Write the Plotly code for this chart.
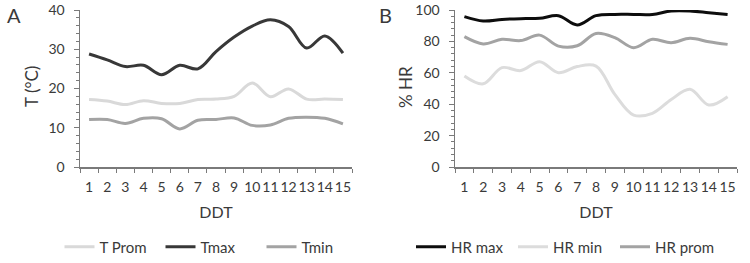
import plotly.graph_objects as go

ddt = [str(i) for i in range(1, 16)]

t_prom = [17.2, 16.8, 15.9, 16.9, 16.2, 16.2, 17.2, 17.3, 18.0, 21.4, 17.9, 19.9, 17.3, 17.3, 17.2]
t_max = [28.8, 27.3, 25.6, 25.9, 23.5, 25.9, 25.0, 29.4, 33.1, 35.9, 37.5, 35.8, 30.3, 33.4, 29.0]
t_min = [12.1, 12.1, 11.1, 12.4, 12.3, 9.7, 11.9, 12.1, 12.5, 10.6, 10.7, 12.4, 12.7, 12.4, 11.0]

hr_max = [95.8, 93.0, 94.0, 94.5, 94.7, 96.4, 90.5, 96.4, 97.2, 97.2, 97.2, 99.4, 99.4, 98.3, 97.2]
hr_min = [58.0, 53.0, 63.3, 61.4, 67.1, 60.1, 64.0, 64.3, 46.3, 33.1, 34.2, 43.0, 49.5, 39.5, 44.8]
hr_prom = [83.0, 78.4, 81.3, 80.5, 84.0, 77.0, 77.2, 85.0, 82.4, 76.0, 81.3, 79.2, 82.0, 79.8, 78.1]

FONT = "Lato"
TXT = "#3a3a3a"
AX = "#7a7a7a"

fig = go.Figure()

def add(x, y, name, color, xa, ya, leg):
    fig.add_trace(go.Scatter(
        x=x, y=y, name=name, mode="lines",
        line=dict(color=color, width=3, shape="spline", smoothing=1.0),
        xaxis=xa, yaxis=ya, legend=leg,
    ))

add(ddt, t_prom, "T Prom", "#d9d9d9", "x", "y", "legend")
add(ddt, t_max, "Tmax", "#383838", "x", "y", "legend")
add(ddt, t_min, "Tmin", "#a3a3a3", "x", "y", "legend")
add(ddt, hr_max, "HR max", "#0d0d0d", "x2", "y2", "legend2")
add(ddt, hr_min, "HR min", "#dcdcdc", "x2", "y2", "legend2")
add(ddt, hr_prom, "HR prom", "#a3a3a3", "x2", "y2", "legend2")

ydom = [1 - 167 / 263, 1 - 10 / 263]

xcommon = dict(
    type="category", tickson="boundaries", ticks="outside", ticklen=4,
    tickcolor=AX, showline=True, linecolor=AX, linewidth=1.5,
    showgrid=False, zeroline=False, ticklabelstandoff=7, tickangle=0,
    tickfont=dict(family=FONT, size=14, color=TXT),
    title=dict(text="DDT", font=dict(family=FONT, size=16, color=TXT), standoff=12),
    range=[-0.5, 14.5], fixedrange=True, automargin=False,
)
ycommon = dict(
    ticks="outside", ticklen=5, tickcolor=AX, showline=True, linecolor=AX,
    linewidth=1.5, showgrid=False, zeroline=False, ticklabelstandoff=6,
    tickfont=dict(family=FONT, size=14, color=TXT), domain=ydom, automargin=False,
    fixedrange=True,
)

def label(text, x, y, size, angle=0):
    return dict(text=text, x=x / 750, y=1 - y / 263, xref="paper", yref="paper",
                xanchor="center", yanchor="middle", textangle=angle,
                showarrow=False, font=dict(family=FONT, size=size, color=TXT))

fig.update_layout(
    width=750, height=263,
    margin=dict(l=0, r=0, t=0, b=0, autoexpand=False),
    paper_bgcolor="white", plot_bgcolor="white",
    xaxis=dict(domain=[80 / 750, 352 / 750], anchor="y", **xcommon),
    xaxis2=dict(domain=[455 / 750, 737 / 750], anchor="y2", **xcommon),
    yaxis=dict(range=[0, 40], dtick=10, anchor="x",
               minor=dict(dtick=2, ticks="outside", ticklen=3, tickcolor=AX),
               **ycommon),
    yaxis2=dict(range=[0, 100], dtick=20, anchor="x2",
                minor=dict(dtick=4, ticks="outside", ticklen=3, tickcolor=AX),
                **ycommon),
    legend=dict(orientation="h", x=211 / 750, xanchor="center", y=16 / 263, yanchor="middle",
                entrywidth=56, entrywidthmode="pixels",
                font=dict(family=FONT, size=15, color=TXT), bgcolor="rgba(0,0,0,0)"),
    legend2=dict(orientation="h", x=564 / 750, xanchor="center", y=16 / 263, yanchor="middle",
                 entrywidth=57, entrywidthmode="pixels",
                 font=dict(family=FONT, size=15, color=TXT), bgcolor="rgba(0,0,0,0)"),
    annotations=[
        label("A", 14, 15, 20),
        label("B", 385, 15, 20),
        label("T (°C)", 31, 87, 17, -90),
        label("% HR", 405, 87, 17, -90),
    ],
)

fig.write_html("out.html", config={"displayModeBar": False, "staticPlot": True},
               post_script="document.body.style.margin='0';document.body.style.padding='0';")
